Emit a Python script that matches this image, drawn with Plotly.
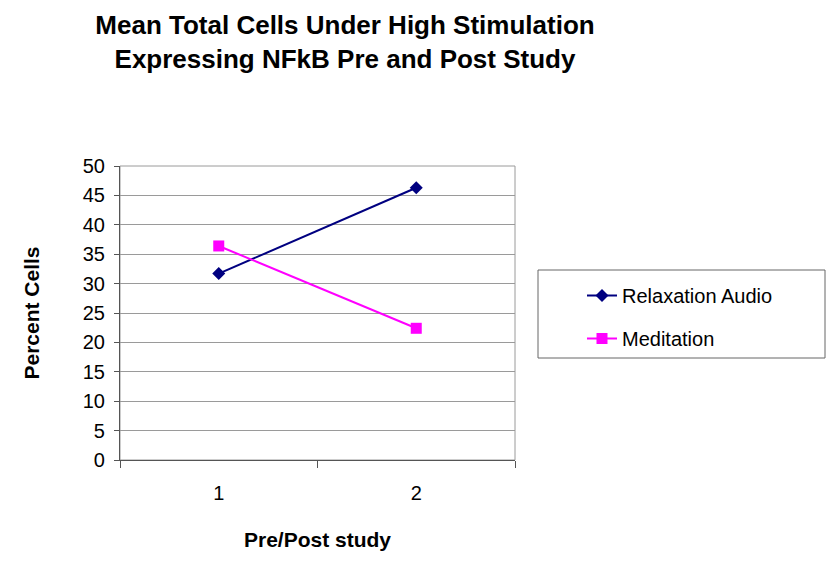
import plotly.graph_objects as go

categories = [1, 2]
relaxation = [31.7, 46.3]
meditation = [36.4, 22.4]
y_ticks = [0, 5, 10, 15, 20, 25, 30, 35, 40, 45, 50]
x_labels = ["1", "2"]

FONT = "Arial, Liberation Sans, sans-serif"

# page body margin offsets the figure by ~8px; shrink figure so it fits the window
OFF = 8
W, H = 836 - OFF, 571 - OFF
PL, PR, PT, PB = 120, 515, 166, 460  # plot area in screen pixels
pw, ph = PR - PL, PB - PT

def px(x):
    return (x - PL) / pw

def py(y):
    return (PB - y) / ph

fig = go.Figure()
fig.add_trace(go.Scatter(
    x=categories, y=relaxation, name="Relaxation Audio", mode="lines+markers",
    line=dict(color="#000080", width=2),
    marker=dict(symbol="diamond", size=10, color="#000080"),
    legendgroup="a"))
fig.add_trace(go.Scatter(
    x=categories, y=meditation, name="Meditation", mode="lines+markers",
    line=dict(color="#FF00FF", width=2),
    marker=dict(symbol="square", size=11, color="#FF00FF"),
    legendgroup="b"))

fig.update_layout(
    width=W, height=H,
    margin=dict(l=PL - OFF, r=W - (PR - OFF), t=PT - OFF, b=H - (PB - OFF)),
    paper_bgcolor="white", plot_bgcolor="white",
    font=dict(family=FONT, color="black", size=20),
    title=dict(
        text="<b>Mean Total Cells Under High Stimulation<br>Expressing NFkB Pre and Post Study</b>",
        x=(345 - OFF) / W, xanchor="center", y=1 - 26 / H, yanchor="top",
        font=dict(size=26, family=FONT)),
    showlegend=True,
    legend=dict(
        x=px(582), xanchor="left",
        y=py(276), yanchor="top",
        bgcolor="rgba(0,0,0,0)", borderwidth=0,
        font=dict(size=20, family=FONT),
        itemwidth=30, traceorder="grouped", tracegroupgap=14),
    xaxis=dict(
        range=[0.5, 2.5], tickvals=categories, ticktext=x_labels,
        ticks="", showgrid=False, zeroline=False,
        showline=True, linecolor="#555555", linewidth=1.2,
        ticklabelstandoff=15,
        minor=dict(tickmode="array", tickvals=[0.5, 1.5, 2.5], ticks="outside",
                   ticklen=7, tickcolor="#555555", showgrid=False),
        title=dict(text="<b>Pre/Post study</b>", font=dict(size=21, family=FONT), standoff=29),
        fixedrange=True),
    yaxis=dict(
        range=[0, 50], tickvals=y_ticks, ticks="outside", ticklen=5,
        tickcolor="#555555", showgrid=True, gridcolor="#9a9a9a", gridwidth=1,
        zeroline=False, showline=True, linecolor="#555555", linewidth=1.2,
        ticklabelstandoff=5,
        title=dict(text="<b>Percent Cells</b>", font=dict(size=21, family=FONT), standoff=37),
        fixedrange=True),
    shapes=[
        dict(type="rect", xref="paper", yref="paper", x0=0, x1=1, y0=0, y1=1,
             line=dict(color="#9a9a9a", width=1), layer="below"),
        dict(type="rect", xref="paper", yref="paper",
             x0=px(538), x1=px(825), y0=py(358), y1=py(270),
             line=dict(color="#666666", width=1)),
    ],
)

fig.write_html("out.html")
